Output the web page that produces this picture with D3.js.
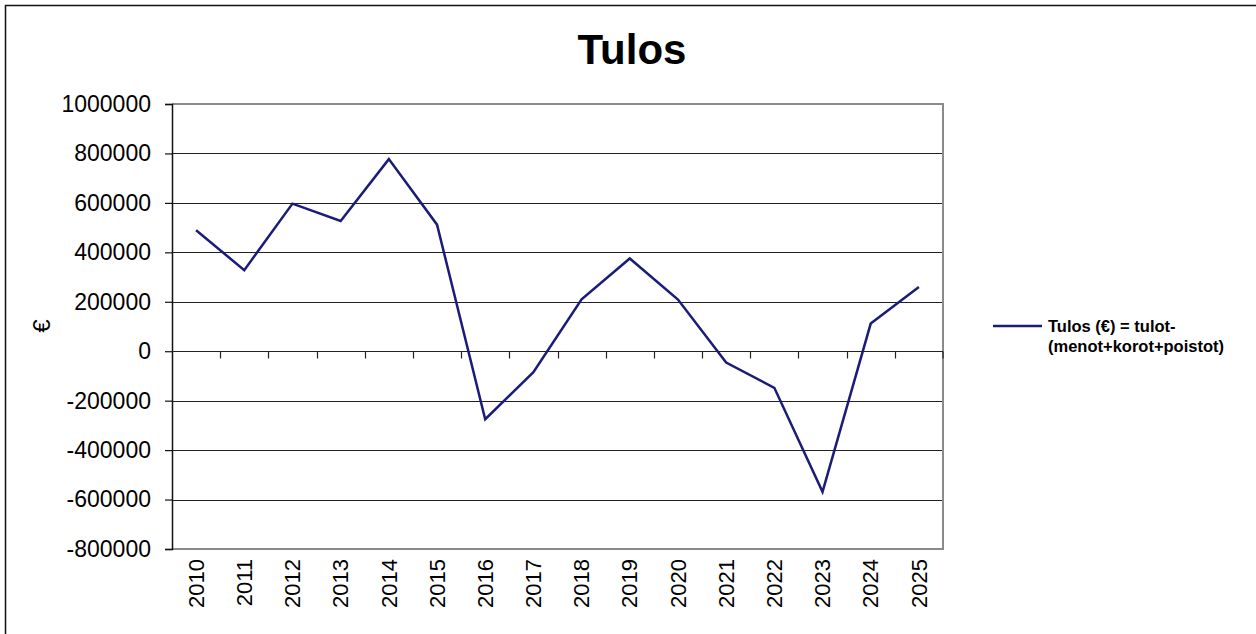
<!DOCTYPE html>
<html>
<head>
<meta charset="utf-8">
<script src="https://cdn.jsdelivr.net/npm/d3@7"></script>
<style>
  body { margin: 0; background: #fff; }
  svg { display: block; font-family: "Liberation Sans", Arial, sans-serif; }
</style>
</head>
<body>
<svg id="chart" width="1256" height="634"></svg>
<script>
const years = ['2010','2011','2012','2013','2014','2015','2016','2017','2018','2019','2020','2021','2022','2023','2024','2025'];
const tulos = [489000, 328000, 597000, 527000, 777000, 512000, -275000, -85000, 210000, 375000, 209000, -46000, -148000, -569000, 112000, 260000];
const yTicks = [1000000, 800000, 600000, 400000, 200000, 0, -200000, -400000, -600000, -800000];
const seriesName = ['Tulos (€) = tulot-', '(menot+korot+poistot)'];

const svg = d3.select('#chart');
const plot = {l: 172, t: 104, r: 943, b: 549};

// outer frame (cut off on the right and bottom)
svg.append('rect')
    .attr('x', 5.5).attr('y', 5.5)
    .attr('width', 1400).attr('height', 800)
    .attr('fill', 'none')
    .attr('stroke', '#111')
    .attr('stroke-width', 1.5);

svg.append('text')
    .attr('x', 632).attr('y', 64)
    .attr('text-anchor', 'middle')
    .attr('font-size', 42)
    .attr('font-weight', 'bold')
    .text('Tulos');

let x = d3.scaleBand()
    .domain(years)
    .range([plot.l, plot.r]);

let y = d3.scaleLinear()
    .domain([-800000, 1000000])
    .range([plot.b, plot.t]);

// gridlines
svg.append('g')
    .selectAll('line')
    .data(yTicks.filter(d => d !== 1000000 && d !== -800000 && d !== 0))
    .join('line')
    .attr('x1', plot.l).attr('x2', plot.r)
    .attr('y1', d => Math.round(y(d)) + 0.5)
    .attr('y2', d => Math.round(y(d)) + 0.5)
    .attr('stroke', '#222')
    .attr('stroke-width', 1.2);

// plot frame: top, right, bottom gray
svg.append('path')
    .attr('d', `M${plot.l},${plot.t}H${plot.r}V${plot.b}H${plot.l}`)
    .attr('fill', 'none')
    .attr('stroke', '#8a8a8a')
    .attr('stroke-width', 2);

// y axis
let yAxis = d3.axisLeft(y)
    .tickValues(yTicks)
    .tickSize(7)
    .tickPadding(14)
    .tickFormat(d => d3.format('d')(d).replace('−', '-'));

let yG = svg.append('g')
    .attr('transform', `translate(${plot.l},0)`)
    .call(yAxis);
yG.select('.domain').attr('stroke', '#111').attr('stroke-width', 1.5);
yG.selectAll('.tick line').attr('stroke', '#111').attr('stroke-width', 1.2);
yG.selectAll('.tick text')
    .attr('font-size', 23)
    .attr('font-family', '"Liberation Sans", Arial, sans-serif')
    .attr('fill', '#000');

// category axis on zero line
let zeroY = Math.round(y(0)) + 0.5;
svg.append('line')
    .attr('x1', plot.l).attr('x2', plot.r)
    .attr('y1', zeroY).attr('y2', zeroY)
    .attr('stroke', '#222')
    .attr('stroke-width', 1.2);

svg.append('g')
    .selectAll('line')
    .data(years.slice(1).concat(['end']))
    .join('line')
    .attr('x1', d => d === 'end' ? plot.r : Math.round(x(d)) + 0.5)
    .attr('x2', d => d === 'end' ? plot.r : Math.round(x(d)) + 0.5)
    .attr('y1', zeroY)
    .attr('y2', zeroY + 7)
    .attr('stroke', '#222')
    .attr('stroke-width', 1.2);

// category labels at the bottom, rotated
svg.append('g')
    .selectAll('text')
    .data(years)
    .join('text')
    .attr('transform', d => `translate(${x(d) + x.bandwidth() / 2},${plot.b + 10}) rotate(-90)`)
    .attr('text-anchor', 'end')
    .attr('dy', '0.35em')
    .attr('font-size', 22)
    .text(d => d);

// y axis title
svg.append('text')
    .attr('transform', 'translate(42,326) rotate(-90)')
    .attr('text-anchor', 'middle')
    .attr('dy', '0.35em')
    .attr('font-size', 24)
    .text('€');

// series line
let line = d3.line()
    .x((d, i) => x(years[i]) + x.bandwidth() / 2)
    .y(d => y(d));

svg.append('path')
    .datum(tulos)
    .attr('d', line)
    .attr('fill', 'none')
    .attr('stroke', '#1b1b78')
    .attr('stroke-width', 2.5)
    .attr('stroke-linejoin', 'miter');

// legend
let legend = svg.append('g').attr('transform', 'translate(993,326)');
legend.append('line')
    .attr('x1', 0).attr('x2', 49)
    .attr('stroke', '#1b1b78')
    .attr('stroke-width', 2.5);
legend.selectAll('text')
    .data(seriesName)
    .join('text')
    .attr('x', 55)
    .attr('y', (d, i) => 6 + i * 20)
    .attr('font-size', 16.5)
    .attr('font-weight', 'bold')
    .text(d => d);
</script>
</body>
</html>
